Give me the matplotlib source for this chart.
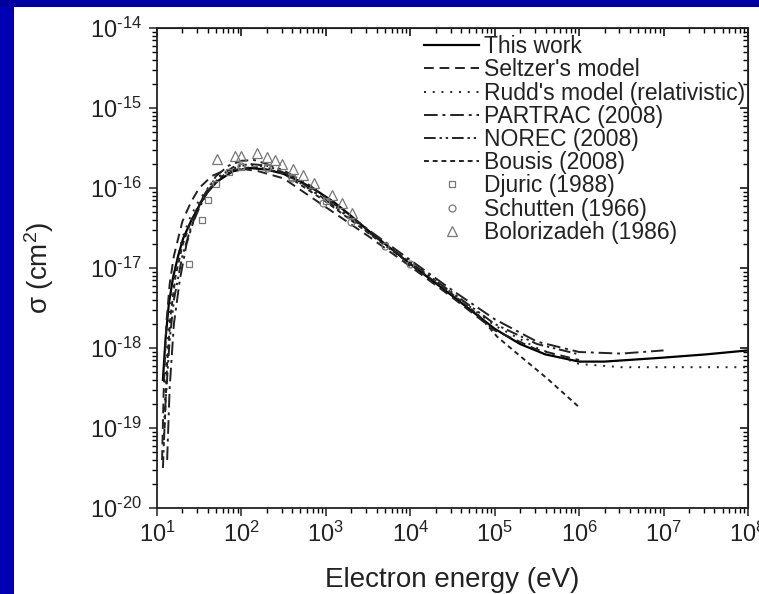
import numpy as np
import matplotlib
matplotlib.use('Agg')
import matplotlib.pyplot as plt
from matplotlib.patches import Rectangle
from matplotlib.ticker import FuncFormatter

plt.rcParams['font.family'] = ['Liberation Sans', 'DejaVu Sans']
plt.rcParams['mathtext.fontset'] = 'custom'
plt.rcParams['mathtext.rm'] = 'Liberation Sans'
plt.rcParams['mathtext.it'] = 'Liberation Sans:italic'
plt.rcParams['mathtext.bf'] = 'Liberation Sans:bold'

# log10(E / eV), log10(sigma / cm^2)
thisWorkLogE = [1.07, 1.10, 1.14, 1.19, 1.25, 1.31, 1.40, 1.51, 1.60, 1.71, 1.90, 2.10, 2.30, 2.49,
                2.70, 2.90, 3.10, 3.30, 3.50, 4.00, 4.50, 5.00, 5.30, 5.60, 6.00, 6.30, 7.00, 7.50, 8.00]
thisWorkLogS = [-18.40, -17.90, -17.45, -17.12, -16.85, -16.63, -16.42, -16.20, -16.05, -15.92, -15.79,
                -15.75, -15.77, -15.82, -15.92, -16.04, -16.18, -16.35, -16.53, -16.95, -17.35, -17.76,
                -17.95, -18.08, -18.17, -18.17, -18.12, -18.08, -18.03]

seltzerLogE = [1.06, 1.08, 1.11, 1.15, 1.20, 1.30, 1.40, 1.50, 1.65, 1.80, 2.00, 2.20, 2.50, 3.00,
               3.50, 4.00, 4.50, 5.00, 5.50, 6.00]
seltzerLogS = [-19.40, -18.50, -17.70, -17.20, -16.85, -16.42, -16.18, -16.00, -15.85, -15.78, -15.76,
               -15.79, -15.88, -16.24, -16.60, -16.98, -17.37, -17.78, -18.02, -18.15]

ruddLogE = [1.08, 1.10, 1.13, 1.17, 1.22, 1.30, 1.40, 1.50, 1.65, 1.80, 2.00, 2.20, 2.50, 3.00,
            3.50, 4.00, 4.50, 5.00, 5.50, 6.00, 6.50, 7.00, 7.50, 8.00]
ruddLogS = [-19.20, -18.40, -17.80, -17.35, -17.00, -16.62, -16.35, -16.15, -15.93, -15.80, -15.72,
            -15.72, -15.80, -16.15, -16.53, -16.92, -17.32, -17.72, -18.00, -18.20, -18.24, -18.24,
            -18.24, -18.24]

partracLogE = [1.12, 1.15, 1.20, 1.27, 1.35, 1.45, 1.55, 1.70, 1.85, 2.00, 2.15, 2.30, 2.50, 2.80,
               3.00, 3.50, 4.00, 4.50, 5.00, 5.50, 6.00, 6.50, 7.00]
partracLogS = [-19.40, -18.50, -17.70, -17.15, -16.70, -16.35, -16.10, -15.85, -15.72, -15.66, -15.65,
               -15.70, -15.78, -15.96, -16.12, -16.52, -16.90, -17.28, -17.64, -17.92, -18.05, -18.07,
               -18.03]

norecLogE = [1.07, 1.10, 1.15, 1.20, 1.30, 1.40, 1.50, 1.60, 1.75, 1.90, 2.10, 2.30, 2.60, 3.00,
             3.50, 4.00, 4.50, 5.00, 5.50, 6.00]
norecLogS = [-19.50, -18.70, -17.90, -17.40, -16.85, -16.50, -16.25, -16.05, -15.85, -15.74, -15.70,
             -15.72, -15.85, -16.15, -16.55, -16.93, -17.31, -17.70, -17.95, -18.08]

bousisLogE = [1.09, 1.12, 1.16, 1.22, 1.30, 1.40, 1.50, 1.65, 1.80, 2.00, 2.20, 2.50, 3.00, 3.50,
              4.00, 4.50, 4.80, 5.03, 5.30, 5.62, 6.00]
bousisLogS = [-19.00, -18.20, -17.60, -17.10, -16.72, -16.42, -16.20, -15.97, -15.83, -15.75, -15.74,
              -15.82, -16.17, -16.56, -16.95, -17.33, -17.58, -17.86, -18.10, -18.38, -18.74]

djuricLogE = [1.38, 1.53, 1.60, 1.70, 1.85, 2.00, 2.30, 2.60, 3.00]
djuricLogS = [-16.95, -16.40, -16.15, -15.95, -15.80, -15.74, -15.74, -15.86, -16.16]

schuttenLogE = [2.00, 2.30, 2.60, 2.97, 3.30, 3.70, 4.00]
schuttenLogS = [-15.72, -15.75, -15.88, -16.19, -16.42, -16.72, -16.95]

bolorLogE = [1.71, 1.92, 2.00, 2.18, 2.30, 2.40, 2.48, 2.61, 2.73, 2.86, 3.07, 3.19, 3.31]
bolorLogS = [-15.64, -15.60, -15.60, -15.56, -15.61, -15.65, -15.70, -15.76, -15.84, -15.94, -16.09,
             -16.19, -16.31]

xTicks = [1e1, 1e2, 1e3, 1e4, 1e5, 1e6, 1e7, 1e8]
yTicks = [1e-20, 1e-19, 1e-18, 1e-17, 1e-16, 1e-15, 1e-14]


def p10(v):
    return 10.0 ** np.array(v)


def powLabel(v, pos):
    # plain hyphen in the exponent, like the original figure
    e = int(round(np.log10(v)))
    if e < 0:
        return r'$10^{\text{-%d}}$' % (-e)
    return r'$10^{%d}$' % e


# white slide panel, blue frame on the left and top
fig = plt.figure(figsize=(7.59, 5.94), dpi=100, facecolor='white')
fig.patches.append(Rectangle((0, 0), 14 / 759, 1, transform=fig.transFigure,
                             facecolor='#0000b2', edgecolor='none', zorder=-5))
fig.patches.append(Rectangle((0, 1 - 7 / 594), 1, 7 / 594, transform=fig.transFigure,
                             facecolor='#0000a0', edgecolor='none', zorder=-5))

ax = fig.add_axes([157 / 759, 1 - 508 / 594, (748 - 157) / 759, (508 - 28) / 594])
ax.set_facecolor('white')
ax.set_xscale('log')
ax.set_yscale('log')
ax.set_xlim(1e1, 1e8)
ax.set_ylim(1e-20, 1e-14)

lw = 1.4
ax.plot(p10(thisWorkLogE), p10(thisWorkLogS), color='black', lw=1.6, ls='-', label='This work')
ax.plot(p10(seltzerLogE), p10(seltzerLogS), color='#222222', lw=lw, ls=(0, (5, 3)), label="Seltzer's model")
ax.plot(p10(ruddLogE), p10(ruddLogS), color='#222222', lw=lw, ls=(0, (1, 3.5)),
        label="Rudd's model (relativistic)")
ax.plot(p10(partracLogE), p10(partracLogS), color='#222222', lw=lw, ls=(0, (7, 2.5, 1.5, 2.5)),
        label='PARTRAC (2008)')
ax.plot(p10(norecLogE), p10(norecLogS), color='#222222', lw=lw, ls=(0, (6, 2, 1.2, 2, 1.2, 2)),
        label='NOREC (2008)')
ax.plot(p10(bousisLogE), p10(bousisLogS), color='#222222', lw=lw, ls=(0, (2.5, 2)), label='Bousis (2008)')
ax.plot(p10(djuricLogE), p10(djuricLogS), ls='none', marker='s', ms=5, mfc='none', mec='#777777',
        mew=0.9, label='Djuric (1988)')
ax.plot(p10(schuttenLogE), p10(schuttenLogS), ls='none', marker='o', ms=5, mfc='none', mec='#777777',
        mew=0.9, label='Schutten (1966)')
ax.plot(p10(bolorLogE), p10(bolorLogS), ls='none', marker='^', ms=7.5, mfc='none', mec='#777777',
        mew=0.9, label='Bolorizadeh (1986)')

for s in ax.spines.values():
    s.set_linewidth(1.3)
    s.set_color('#222222')

ax.set_xticks(xTicks)
ax.set_yticks(yTicks)
ax.xaxis.set_major_formatter(FuncFormatter(powLabel))
ax.yaxis.set_major_formatter(FuncFormatter(powLabel))
ax.tick_params(which='major', direction='out', length=6, width=1.1, labelsize=17, colors='#222222')
ax.tick_params(which='minor', direction='out', length=3.5, width=1.0)
ax.tick_params(axis='x', pad=4)
ax.tick_params(axis='y', pad=5)

top = ax.secondary_xaxis('top', functions=(lambda x: x, lambda x: x))
top.set_xticks(xTicks)
top.tick_params(which='major', direction='in', length=6, width=1.1, labeltop=False)
top.tick_params(which='minor', direction='in', length=3.5, width=1.0)
right = ax.secondary_yaxis('right', functions=(lambda y: y, lambda y: y))
right.set_yticks(yTicks)
right.tick_params(which='major', direction='in', length=6, width=1.1, labelright=False)
right.tick_params(which='minor', direction='in', length=3.5, width=1.0)

ax.set_xlabel('Electron energy (eV)', fontsize=20, color='#222222', labelpad=14)
ax.set_ylabel('σ (cm$^2$)', fontsize=20, color='#222222', labelpad=24)

leg = ax.legend(loc='upper left', bbox_to_anchor=(0.448, 0.99), frameon=False, fontsize=16.5,
                handlelength=2.4, handletextpad=0.2, labelspacing=0.01, borderpad=0.1,
                borderaxespad=0.0)
for t in leg.get_texts():
    t.set_color('#222222')

fig.savefig('out.png', dpi=100)
